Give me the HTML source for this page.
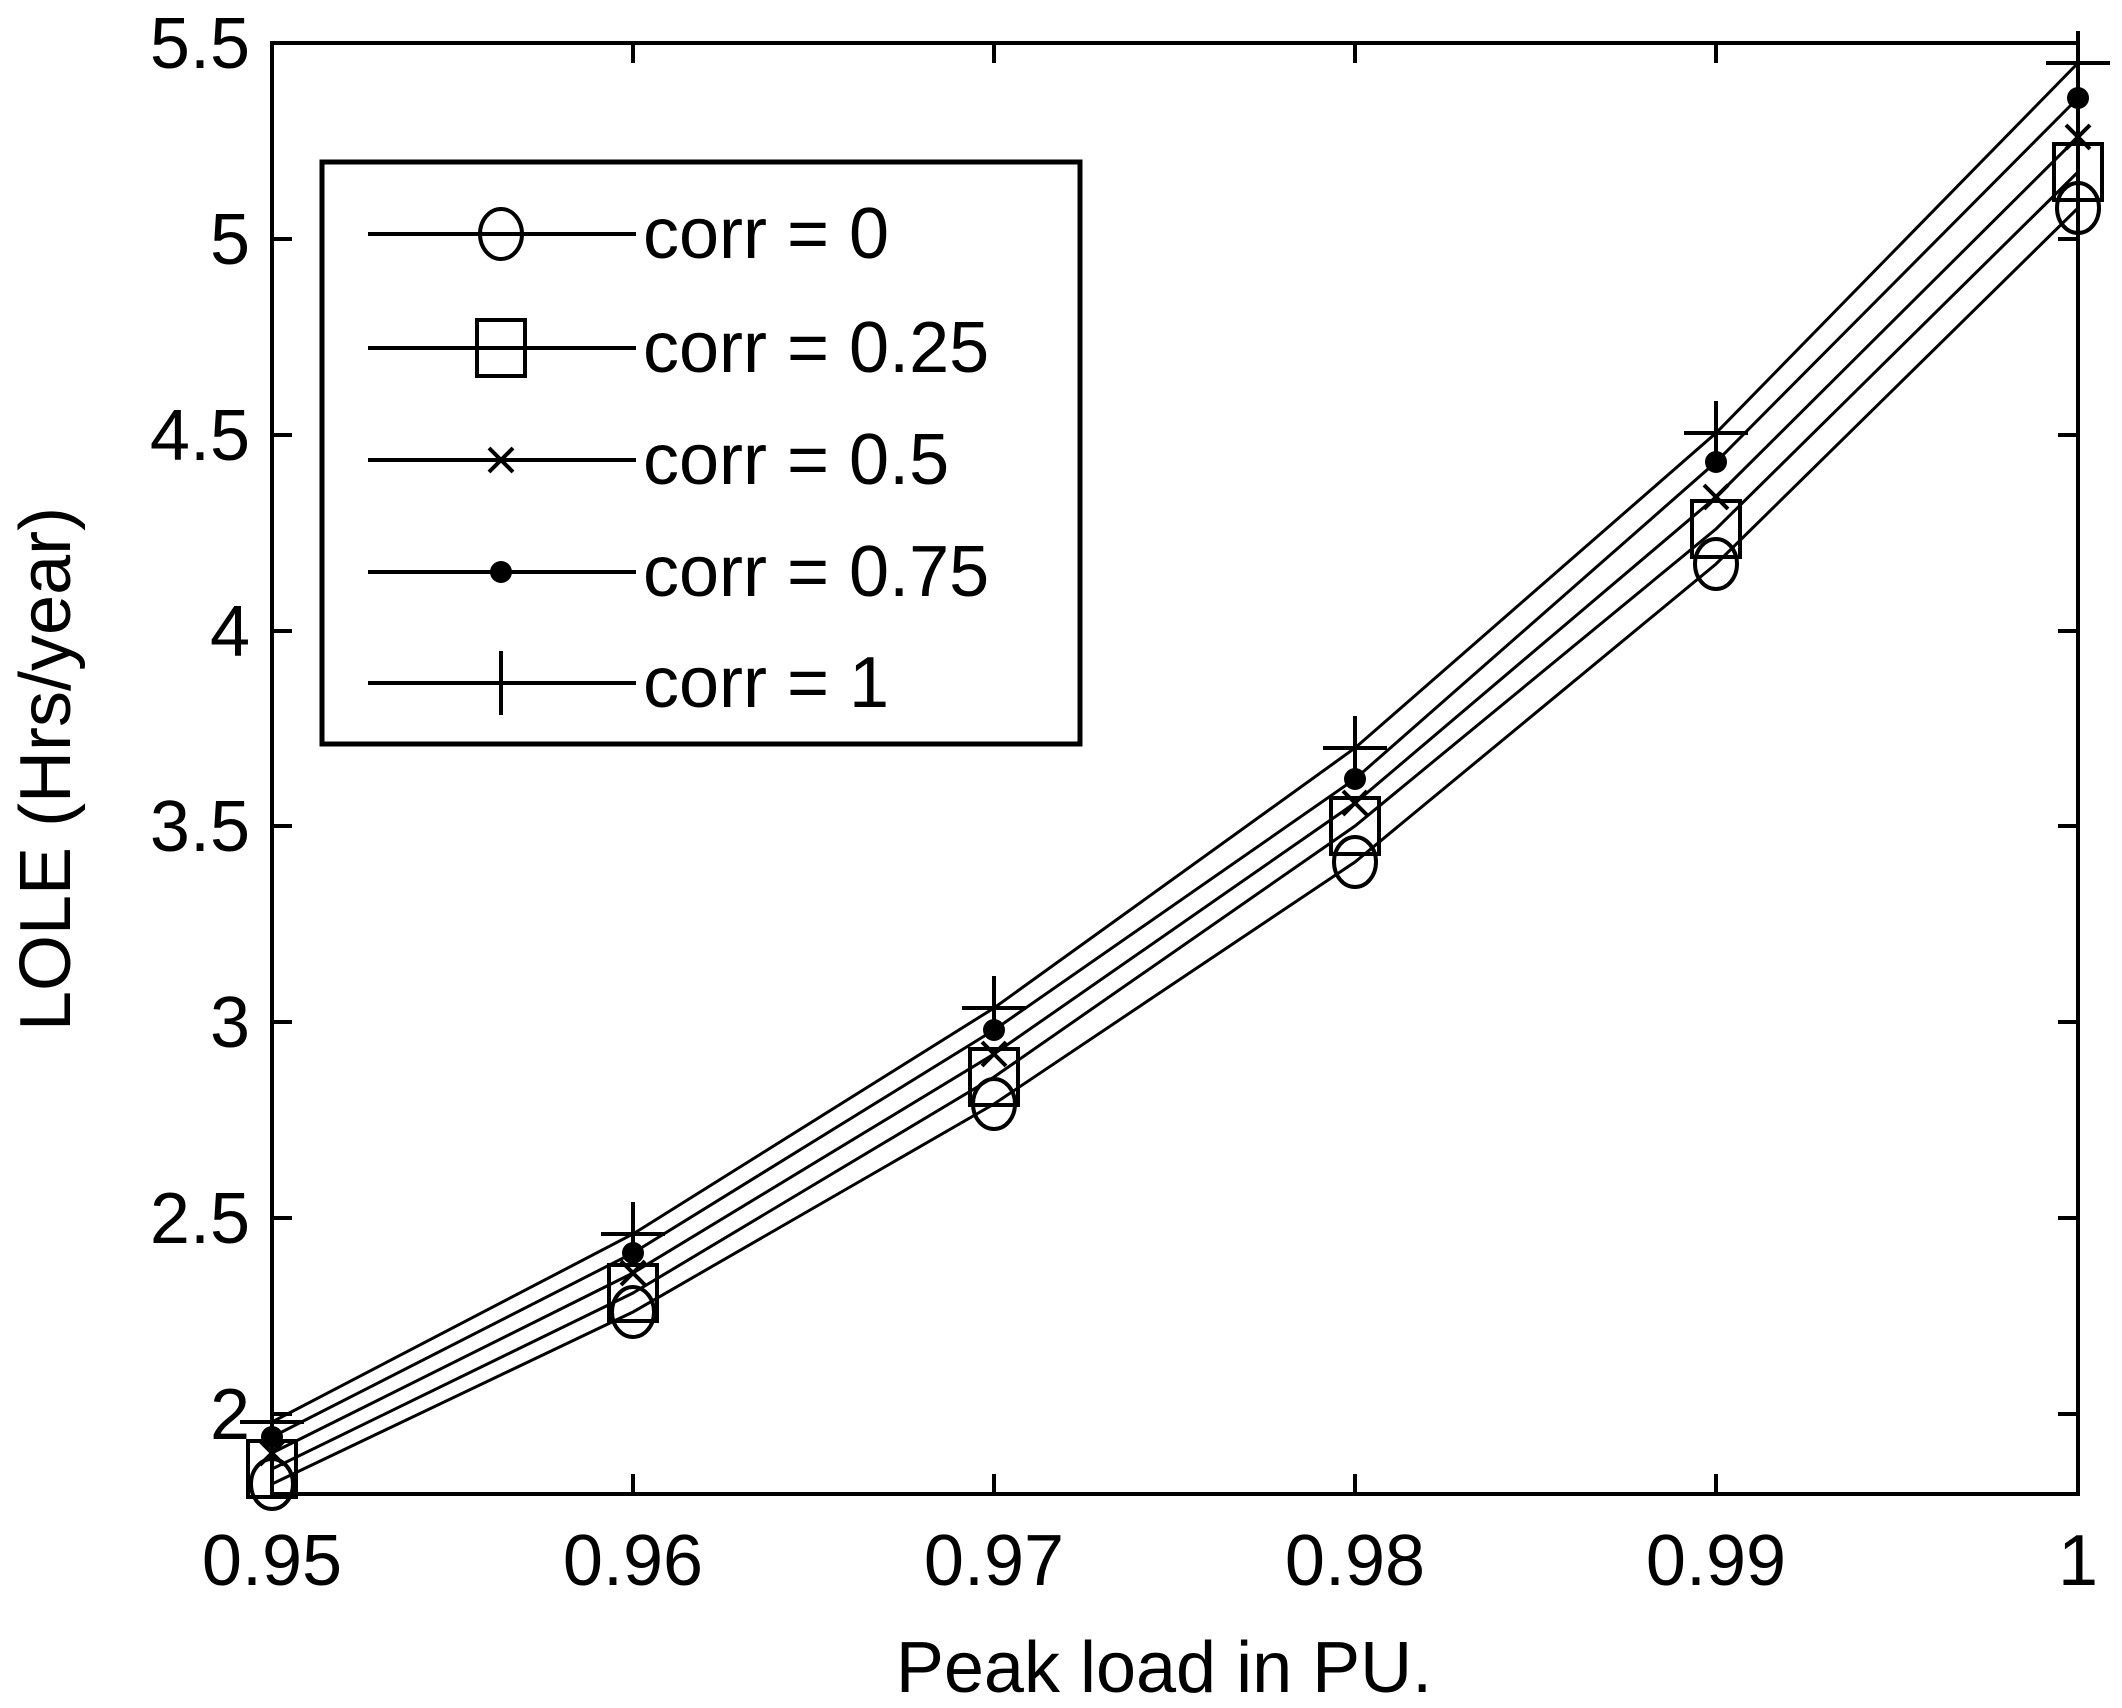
<!DOCTYPE html>
<html><head><meta charset="utf-8"><style>
html,body{margin:0;padding:0;background:#fff}
svg{display:block}
text{font-family:"Liberation Sans",sans-serif;fill:#000}
</style></head><body>
<svg width="2122" height="1708" viewBox="0 0 2122 1708" xmlns="http://www.w3.org/2000/svg">
<rect width="2122" height="1708" fill="#fff"/>
<g stroke="#000" stroke-width="4" fill="none">
<rect x="272" y="43" width="1806" height="1451"/>
<path d="M633 1494v-20M994 1494v-20M1355 1494v-20M1716 1494v-20M633 43v20M994 43v20M1355 43v20M1716 43v20"/>
<path d="M272 239h20M272 435h20M272 631h20M272 826h20M272 1022h20M272 1218h20M272 1414h20
M2078 239h-20M2078 435h-20M2078 631h-20M2078 826h-20M2078 1022h-20M2078 1218h-20M2078 1414h-20"/>
</g>
<g font-size="72" text-anchor="end">
<text x="250" y="68">5.5</text><text x="250" y="264">5</text><text x="250" y="460">4.5</text>
<text x="250" y="656">4</text><text x="250" y="851">3.5</text><text x="250" y="1047">3</text>
<text x="250" y="1243">2.5</text><text x="250" y="1439">2</text>
</g>
<g font-size="72" text-anchor="middle">
<text x="272" y="1585">0.95</text><text x="633" y="1585">0.96</text><text x="994" y="1585">0.97</text>
<text x="1355" y="1585">0.98</text><text x="1716" y="1585">0.99</text><text x="2078" y="1585">1</text>
<text x="1164" y="1692">Peak load in PU.</text>
<text transform="translate(70,769) rotate(-90)">LOLE (Hrs/year)</text>
</g>
<g stroke="#000" stroke-width="3" fill="none">
<polyline points="272,1484 633,1312 994,1104 1355,862 1716,564 2078,208"/>
<polyline points="272,1469 633,1293 994,1077 1355,826 1716,529 2078,172"/>
<polyline points="272,1453 633,1273 994,1054 1355,803 1716,497 2078,137"/>
<polyline points="272,1437 633,1253 994,1030 1355,779 1716,462 2078,98"/>
<polyline points="272,1422 633,1234 994,1008 1355,748 1716,433 2078,63"/>
</g>
<g stroke="#000" stroke-width="4" fill="none">
<ellipse cx="272" cy="1484" rx="21" ry="25"/><ellipse cx="633" cy="1312" rx="21" ry="25"/>
<ellipse cx="994" cy="1104" rx="21" ry="25"/><ellipse cx="1355" cy="862" rx="21" ry="25"/>
<ellipse cx="1716" cy="564" rx="21" ry="25"/><ellipse cx="2078" cy="208" rx="21" ry="25"/>
<rect x="248" y="1441" width="48" height="56"/><rect x="609" y="1265" width="48" height="56"/>
<rect x="970" y="1049" width="48" height="56"/><rect x="1331" y="798" width="48" height="56"/>
<rect x="1692" y="501" width="48" height="56"/><rect x="2054" y="144" width="48" height="56"/>
<path d="M260 1441l24 24M284 1441l-24 24M621 1261l24 24M645 1261l-24 24M982 1042l24 24M1006 1042l-24 24M1343 791l24 24M1367 791l-24 24M1704 485l24 24M1728 485l-24 24M2066 125l24 24M2090 125l-24 24"/>
<path d="M240 1422h64M272 1390v64M601 1234h64M633 1202v64M962 1008h64M994 976v64M1323 748h64M1355 716v64M1684 433h64M1716 401v64M2046 63h64M2078 31v64"/>
</g>
<g fill="#000">
<circle cx="272" cy="1437" r="11"/><circle cx="633" cy="1253" r="11"/><circle cx="994" cy="1030" r="11"/>
<circle cx="1355" cy="779" r="11"/><circle cx="1716" cy="462" r="11"/><circle cx="2078" cy="98" r="11"/>
</g>
<rect x="322" y="162" width="758" height="582" fill="#fff" stroke="#000" stroke-width="5"/>
<g stroke="#000" stroke-width="4" fill="none">
<path d="M368 234h268M368 348h268M368 460h268M368 572h268M368 683h268"/>
<ellipse cx="501" cy="234" rx="21" ry="25"/>
<rect x="477" y="320" width="48" height="56"/>
<path d="M489 448l24 24M513 448l-24 24"/>
<path d="M501 651v64"/>
</g>
<circle cx="501" cy="572" r="11" fill="#000"/>
<g font-size="72">
<text x="643" y="258">corr = 0</text>
<text x="643" y="372">corr = 0.25</text>
<text x="643" y="484">corr = 0.5</text>
<text x="643" y="596">corr = 0.75</text>
<text x="643" y="707">corr = 1</text>
</g>
</svg>
</body></html>
